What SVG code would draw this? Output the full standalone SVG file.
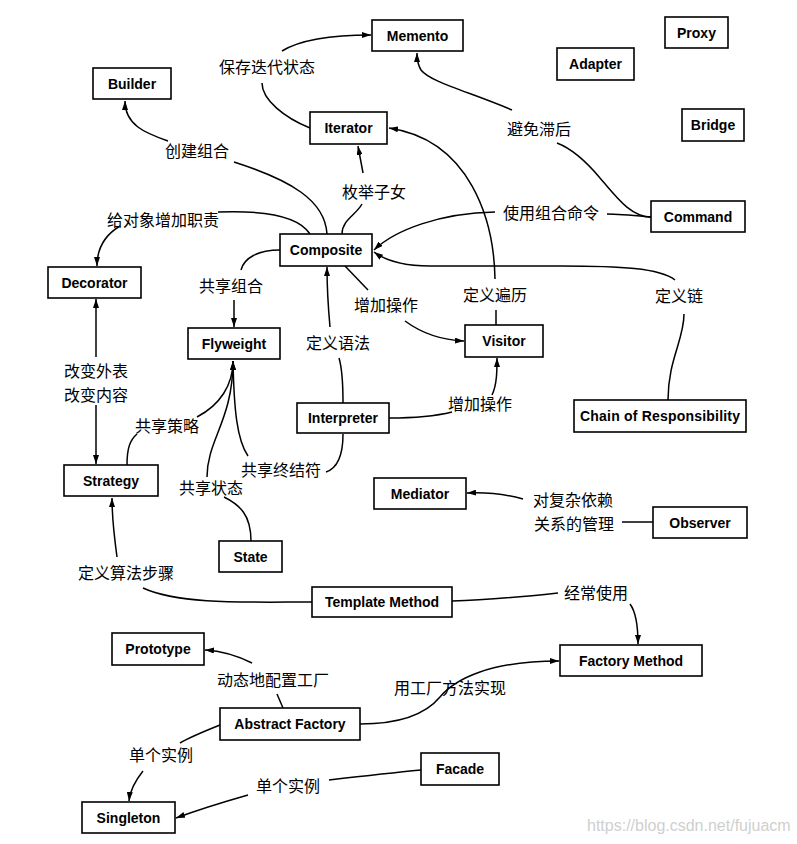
<svg xmlns="http://www.w3.org/2000/svg" width="797" height="844" viewBox="0 0 797 844">
<style>
.node rect{fill:#fff;stroke:#000;stroke-width:1.6}
.node text{font-family:"Liberation Sans",Arial,sans-serif;font-weight:bold;font-size:14px;text-anchor:middle;fill:#000}
.edge{fill:none;stroke:#000;stroke-width:1.5}
.lbl{font-family:"Noto Sans CJK SC","Noto Sans",sans-serif;font-size:16px;text-anchor:middle;fill:#000}
.wm{font-family:"Liberation Sans",Arial,sans-serif;font-size:16px;fill:#cfcfcf}
</style>
<defs>
<marker id="ah" viewBox="0 0 9 6" refX="9" refY="3" markerWidth="9" markerHeight="6" markerUnits="userSpaceOnUse" orient="auto">
<path d="M0,0 L9,3 L0,6 z" fill="#000"/>
</marker>
</defs>
<rect width="797" height="844" fill="#fff"/>

<g id="connectors">
<!-- Iterator -> Memento -->
<path class="edge" d="M310,128 C285,118 262,100 262,83"/>
<path class="edge" d="M282,51 C300,40 330,35 371,35" marker-end="url(#ah)"/>
<!-- Composite -> Builder -->
<path class="edge" d="M327,234 C325,200 290,180 234,162"/>
<path class="edge" d="M168,141 C145,133 125,125 125,101" marker-end="url(#ah)"/>
<!-- Composite -> Iterator -->
<path class="edge" d="M342,234 C342,220 356,215 362,204"/>
<path class="edge" d="M363,173 L358,146" marker-end="url(#ah)"/>
<!-- Composite -> Decorator -->
<path class="edge" d="M310,234 C300,218 270,210 218,212"/>
<path class="edge" d="M120,226 C105,235 97,248 97,266" marker-end="url(#ah)"/>
<!-- Command -> Memento -->
<path class="edge" d="M651,217 C630,217 615,195 600,178 C585,160 570,148 557,143"/>
<path class="edge" d="M512,110 C470,92 430,82 421,70 C418,65 417,60 417,53" marker-end="url(#ah)"/>
<!-- Command -> Composite -->
<path class="edge" d="M651,217 C640,216 620,214 607,214"/>
<path class="edge" d="M495,212 C440,213 395,230 374,250" marker-end="url(#ah)"/>
<!-- Chain of Responsibility -> Composite -->
<path class="edge" d="M668,400 C668,360 684,340 684,314"/>
<path class="edge" d="M675,280 C660,268 620,266 560,266 L430,266 C400,266 385,260 374,252" marker-end="url(#ah)"/>
<!-- Visitor -> Iterator -->
<path class="edge" d="M496,325 L496,310"/>
<path class="edge" d="M495,279 C494,220 470,140 389,128" marker-end="url(#ah)"/>
<!-- Composite -> Visitor -->
<path class="edge" d="M345,266 L368,290"/>
<path class="edge" d="M405,321 C420,332 440,340 464,341" marker-end="url(#ah)"/>
<!-- Interpreter -> Composite -->
<path class="edge" d="M343,403 C343,380 342,368 339,358"/>
<path class="edge" d="M330,327 C328,305 327,290 327,267" marker-end="url(#ah)"/>
<!-- Interpreter -> Visitor -->
<path class="edge" d="M389,418 C420,418 440,415 452,412"/>
<path class="edge" d="M492,395 C497,385 497,370 497,358" marker-end="url(#ah)"/>
<!-- Composite -> Flyweight -->
<path class="edge" d="M280,250 C258,250 244,258 241,270"/>
<path class="edge" d="M234,300 L234,327" marker-end="url(#ah)"/>
<!-- Decorator <-> Strategy -->
<path class="edge" d="M96,357 L96,299" marker-end="url(#ah)"/>
<path class="edge" d="M96,405 L96,464" marker-end="url(#ah)"/>
<!-- Strategy -> Flyweight -->
<path class="edge" d="M127,465 C127,448 130,440 137,434"/>
<path class="edge" d="M197,417 C220,405 233,385 233,361" marker-end="url(#ah)"/>
<!-- State -> Flyweight -->
<path class="edge" d="M251,541 C251,515 240,505 224,497"/>
<path class="edge" d="M207,477 C207,440 233,420 233,361" marker-end="url(#ah)"/>
<!-- Interpreter -> Flyweight -->
<path class="edge" d="M343,434 C343,455 338,468 326,472"/>
<path class="edge" d="M248,456 C237,440 234,410 233,361"/>
<!-- Template Method -> Strategy -->
<path class="edge" d="M312,602 C250,602 180,605 143,588"/>
<path class="edge" d="M117,557 C114,535 112,520 112,498" marker-end="url(#ah)"/>
<!-- Template Method -> Factory Method -->
<path class="edge" d="M452,601 C490,600 530,596 558,593"/>
<path class="edge" d="M630,604 C636,612 638,625 638,644" marker-end="url(#ah)"/>
<!-- Abstract Factory -> Prototype -->
<path class="edge" d="M283,708 L277,694"/>
<path class="edge" d="M252,663 C240,657 222,651 205,650" marker-end="url(#ah)"/>
<!-- Abstract Factory -> Factory Method -->
<path class="edge" d="M360,724 C400,724 425,715 440,697 C455,679 490,661 559,661" marker-end="url(#ah)"/>
<!-- Abstract Factory -> Singleton -->
<path class="edge" d="M220,725 C205,731 190,737 180,743"/>
<path class="edge" d="M143,771 C135,781 130,790 129,801" marker-end="url(#ah)"/>
<!-- Facade -> Singleton -->
<path class="edge" d="M421,770 C390,773 355,777 329,780"/>
<path class="edge" d="M248,795 C220,803 195,811 176,818" marker-end="url(#ah)"/>
<!-- Observer -> Mediator -->
<path class="edge" d="M653,522 L622,522"/>
<path class="edge" d="M523,499 C505,494 490,492 467,493" marker-end="url(#ah)"/>

<g id="edge-labels">
<text class="lbl" x="267" y="73">保存迭代状态</text>
<text class="lbl" x="197" y="157">创建组合</text>
<text class="lbl" x="374" y="198">枚举子女</text>
<text class="lbl" x="163" y="226">给对象增加职责</text>
<text class="lbl" x="539" y="135">避免滞后</text>
<text class="lbl" x="551" y="219">使用组合命令</text>
<text class="lbl" x="231" y="292">共享组合</text>
<text class="lbl" x="386" y="311">增加操作</text>
<text class="lbl" x="495" y="301">定义遍历</text>
<text class="lbl" x="679" y="302">定义链</text>
<text class="lbl" x="338" y="349">定义语法</text>
<text class="lbl" x="96" y="377">改变外表</text>
<text class="lbl" x="96" y="401">改变内容</text>
<text class="lbl" x="167" y="432">共享策略</text>
<text class="lbl" x="480" y="410">增加操作</text>
<text class="lbl" x="281" y="476">共享终结符</text>
<text class="lbl" x="211" y="494">共享状态</text>
<text class="lbl" x="573" y="506">对复杂依赖</text>
<text class="lbl" x="574" y="530">关系的管理</text>
<text class="lbl" x="126" y="579">定义算法步骤</text>
<text class="lbl" x="596" y="599">经常使用</text>
<text class="lbl" x="273" y="686">动态地配置工厂</text>
<text class="lbl" x="450" y="694">用工厂方法实现</text>
<text class="lbl" x="161" y="761">单个实例</text>
<text class="lbl" x="288" y="792">单个实例</text>
</g>
</g>

<g id="node-memento" class="node"><rect x="372" y="20" width="91" height="31"/><text x="417.5" y="40.5">Memento</text></g>
<g id="node-builder" class="node"><rect x="93" y="68" width="78" height="31"/><text x="132" y="88.5">Builder</text></g>
<g id="node-iterator" class="node"><rect x="310" y="112" width="77" height="32"/><text x="348.5" y="133">Iterator</text></g>
<g id="node-composite" class="node"><rect x="280" y="234" width="92" height="32"/><text x="326" y="255">Composite</text></g>
<g id="node-proxy" class="node"><rect x="665" y="17" width="63" height="31"/><text x="696.5" y="37.5">Proxy</text></g>
<g id="node-adapter" class="node"><rect x="557" y="48" width="77" height="32"/><text x="595.5" y="69">Adapter</text></g>
<g id="node-bridge" class="node"><rect x="682" y="109" width="62" height="32"/><text x="713" y="130">Bridge</text></g>
<g id="node-command" class="node"><rect x="651" y="201" width="94" height="31"/><text x="698" y="221.5">Command</text></g>
<g id="node-decorator" class="node"><rect x="48" y="267" width="93" height="31"/><text x="94.5" y="287.5">Decorator</text></g>
<g id="node-flyweight" class="node"><rect x="188" y="328" width="92" height="31"/><text x="234" y="348.5">Flyweight</text></g>
<g id="node-visitor" class="node"><rect x="465" y="325" width="78" height="32"/><text x="504" y="346">Visitor</text></g>
<g id="node-interpreter" class="node"><rect x="297" y="403" width="92" height="30"/><text x="343" y="423">Interpreter</text></g>
<g id="node-chain" class="node"><rect x="574" y="400" width="172" height="32"/><text x="660" y="421" textLength="160">Chain of Responsibility</text></g>
<g id="node-strategy" class="node"><rect x="64" y="465" width="94" height="31"/><text x="111" y="485.5">Strategy</text></g>
<g id="node-mediator" class="node"><rect x="374" y="478" width="92" height="31"/><text x="420" y="498.5">Mediator</text></g>
<g id="node-observer" class="node"><rect x="653" y="507" width="94" height="31"/><text x="700" y="527.5">Observer</text></g>
<g id="node-state" class="node"><rect x="219" y="541" width="63" height="31"/><text x="250.5" y="561.5">State</text></g>
<g id="node-template" class="node"><rect x="312" y="587" width="140" height="30"/><text x="382" y="607">Template Method</text></g>
<g id="node-prototype" class="node"><rect x="112" y="633" width="92" height="32"/><text x="158" y="654">Prototype</text></g>
<g id="node-factory-method" class="node"><rect x="560" y="645" width="142" height="31"/><text x="631" y="665.5">Factory Method</text></g>
<g id="node-abstract-factory" class="node"><rect x="220" y="708" width="140" height="32"/><text x="290" y="729">Abstract Factory</text></g>
<g id="node-facade" class="node"><rect x="421" y="753" width="78" height="32"/><text x="460" y="774">Facade</text></g>
<g id="node-singleton" class="node"><rect x="82" y="802" width="93" height="31"/><text x="128.5" y="822.5">Singleton</text></g>

<text class="wm" x="587" y="831">https://blog.csdn.net/fujuacm</text>
</svg>
